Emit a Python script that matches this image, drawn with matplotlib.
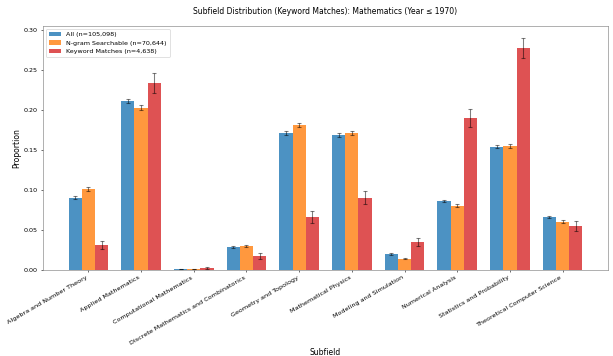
import matplotlib
matplotlib.use("Agg")
import matplotlib.pyplot as plt
import numpy as np

subfields = [
    "Algebra and Number Theory",
    "Applied Mathematics",
    "Computational Mathematics",
    "Discrete Mathematics and Combinatorics",
    "Geometry and Topology",
    "Mathematical Physics",
    "Modeling and Simulation",
    "Numerical Analysis",
    "Statistics and Probability",
    "Theoretical Computer Science",
]

all_prop = [0.0905, 0.2115, 0.0010, 0.0283, 0.1711, 0.1690, 0.0200, 0.0862, 0.1542, 0.0665]
ngram_prop = [0.1013, 0.2032, 0.0010, 0.0294, 0.1815, 0.1716, 0.0140, 0.0805, 0.1547, 0.0603]
kw_prop = [0.0315, 0.2340, 0.0020, 0.0170, 0.0662, 0.0902, 0.0350, 0.1903, 0.2778, 0.0548]

all_err = [0.0017, 0.0025, 0.0002, 0.0010, 0.0023, 0.0023, 0.0008, 0.0017, 0.0022, 0.0015]
ngram_err = [0.0022, 0.0030, 0.0002, 0.0012, 0.0028, 0.0028, 0.0009, 0.0020, 0.0027, 0.0018]
kw_err = [0.0050, 0.0122, 0.0013, 0.0037, 0.0072, 0.0082, 0.0053, 0.0113, 0.0129, 0.0066]

labels = ["All (n=105,098)", "N-gram Searchable (n=70,644)", "Keyword Matches (n=4,638)"]
colors = ["#1f77b4", "#ff7f0e", "#d62728"]

fig, ax = plt.subplots(figsize=(613 / 51, 356 / 51), dpi=51)
fig.subplots_adjust(left=0.070, right=0.992, top=0.927, bottom=0.242)

x = np.arange(len(subfields))
width = 0.25
series = [(all_prop, all_err), (ngram_prop, ngram_err), (kw_prop, kw_err)]
for i, ((vals, errs), lab, col) in enumerate(zip(series, labels, colors)):
    ax.bar(x + (i - 1) * width, vals, width, yerr=errs, label=lab, color=col,
           alpha=0.8, capsize=3,
           error_kw=dict(ecolor="black", alpha=0.5, elinewidth=1.5, capthick=1.5))

ax.set_xticks(x)
ax.set_xticklabels(subfields, rotation=30, ha="right")
ax.set_xlabel("Subfield", fontsize=10.7)
ax.set_ylabel("Proportion", fontsize=10.7)
ax.set_title("Subfield Distribution (Keyword Matches): Mathematics (Year \u2264 1970)",
             fontsize=10.7, pad=17)
ax.tick_params(labelsize=9)
ax.legend(loc="upper left", fontsize=9)
for s in ax.spines.values():
    s.set_color("#777777")

fig.savefig("out.png", dpi=51)
